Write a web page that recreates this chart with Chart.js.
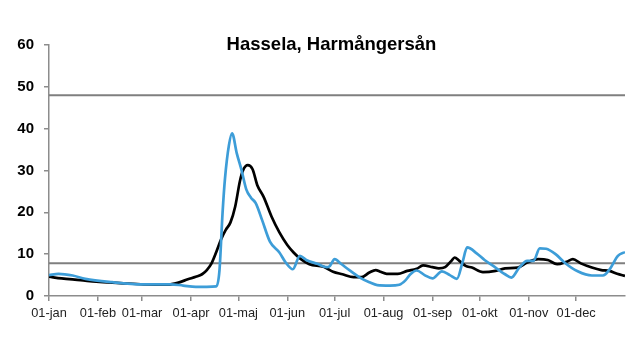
<!DOCTYPE html>
<html>
<head>
<meta charset="utf-8">
<script src="https://cdn.jsdelivr.net/npm/chart.js@4/dist/chart.umd.min.js"></script>
<style>
  html, body { margin: 0; padding: 0; background: #ffffff; }
  #wrap { width: 638px; height: 352px; position: relative; }
</style>
</head>
<body>
<div id="wrap"><canvas id="c" width="638" height="352"></canvas></div>
<script>
// ---- Data ----
const chartTitle = "Hassela, Harmångersån";
const monthStartDays = [0, 31, 59, 90, 120, 151, 181, 212, 243, 273, 304, 334];
const monthLabels = ["01-jan", "01-feb", "01-mar", "01-apr", "01-maj", "01-jun", "01-jul", "01-aug", "01-sep", "01-okt", "01-nov", "01-dec"];
const yTicks = [0, 10, 20, 30, 40, 50, 60];

const blackDays = [0, 8, 20, 30, 45, 60, 75, 82, 88, 93, 97, 100, 103, 106, 109, 112, 115, 118, 121, 123, 126, 129, 132, 136, 141, 146, 151, 155, 159, 165, 174, 180, 186, 193, 198, 203, 207, 210, 214, 221, 227, 233, 237, 243, 247, 251, 255, 257, 260, 264, 268, 275, 283, 289, 297, 303, 310, 316, 322, 328, 332, 337, 344, 350, 355, 360, 365];
const blackVals = [4.6, 4.2, 3.8, 3.4, 3.1, 2.8, 2.7, 3.2, 4.0, 4.6, 5.2, 6.2, 7.8, 10.5, 13.5, 15.8, 17.6, 21.4, 27.5, 30.1, 31.3, 30.3, 26.5, 23.7, 19.0, 15.2, 12.2, 10.4, 9.0, 7.6, 7.0, 5.8, 5.2, 4.5, 4.5, 5.6, 6.2, 5.8, 5.3, 5.3, 6.0, 6.5, 7.3, 6.9, 6.6, 6.9, 8.4, 9.2, 8.4, 7.2, 6.8, 5.7, 6.0, 6.6, 6.8, 8.0, 8.8, 8.6, 7.6, 8.2, 8.8, 7.8, 6.8, 6.2, 6.0, 5.3, 4.8];

const blueDays = [0, 6, 15, 23, 40, 59, 77, 85, 93, 100, 106, 108, 110, 111.5, 114, 116, 119, 122, 125, 128, 131, 135, 140, 146, 150, 154.5, 159, 163, 170, 176, 178, 181, 185, 191, 197, 203, 208, 216, 222, 226, 229, 233, 238, 243, 249, 254, 258.5, 262, 265, 271, 276, 281, 289, 293, 298, 303, 307, 311, 315, 321, 327, 335, 344, 351, 355.5, 360.5, 365];
const blueVals = [5.0, 5.3, 4.9, 4.1, 3.3, 2.8, 2.8, 2.5, 2.2, 2.2, 2.3, 6.0, 20.0, 28.0, 36.0, 38.9, 34.1, 30.1, 25.5, 23.5, 22.2, 18.2, 13.0, 10.4, 8.0, 6.4, 9.6, 8.6, 7.7, 6.9, 7.2, 8.8, 7.7, 6.0, 4.4, 3.3, 2.6, 2.5, 2.7, 3.8, 5.2, 6.1, 5.0, 4.2, 5.9, 5.0, 4.1, 8.0, 11.6, 10.2, 8.6, 7.3, 5.2, 4.4, 6.8, 8.4, 8.4, 11.4, 11.3, 10.0, 7.9, 5.9, 4.9, 4.9, 6.5, 9.6, 10.5];

const refLevels = [48, 7.8];
const dayRange = [0, 365];

// ---- Build datasets ----
const toPts = (xs, ys) => xs.map((x, i) => ({ x: x, y: ys[i] }));

const datasets = [
  {
    label: "blå",
    data: toPts(blueDays, blueVals),
    borderColor: "#3d9dd8",
    borderWidth: 2.7,
    pointRadius: 0,
    cubicInterpolationMode: "monotone",
    order: 0
  },
  {
    label: "svart",
    data: toPts(blackDays, blackVals),
    borderColor: "#000000",
    borderWidth: 2.7,
    pointRadius: 0,
    cubicInterpolationMode: "monotone",
    order: 1
  }
];
refLevels.forEach((lv, i) => {
  datasets.push({
    label: "ref" + i,
    data: dayRange.map(d => ({ x: d, y: lv })),
    borderColor: "#7f7f7f",
    borderWidth: 2,
    pointRadius: 0,
    order: 2
  });
});

const titlePlugin = {
  id: "ownTitle",
  afterDraw(chart) {
    const ctx = chart.ctx;
    ctx.save();
    ctx.font = "bold 18.5px 'Liberation Sans', Arial, sans-serif";
    ctx.fillStyle = "#000000";
    ctx.textAlign = "center";
    ctx.textBaseline = "middle";
    ctx.fillText(chartTitle, 331.5, 45);
    ctx.restore();
  }
};

new Chart(document.getElementById("c"), {
  type: "line",
  data: { datasets: datasets },
  plugins: [titlePlugin],
  options: {
    responsive: false,
    animation: false,
    layout: { padding: { left: 0, right: 13, top: 45, bottom: 0 } },
    plugins: {
      legend: { display: false },
      tooltip: { enabled: false },
      title: { display: false }
    },
    scales: {
      x: {
        type: "linear",
        min: dayRange[0],
        max: dayRange[1],
        afterBuildTicks(scale) {
          scale.ticks = monthStartDays.map(v => ({ value: v }));
        },
        afterFit(scale) { scale.height = 56; },
        ticks: {
          autoSkip: false,
          maxRotation: 0,
          padding: 5,
          color: "#222222",
          font: { family: "'Liberation Sans', Arial, sans-serif", size: 12.8 },
          callback: (v) => {
            const i = monthStartDays.indexOf(v);
            return i >= 0 ? monthLabels[i] : "";
          }
        },
        grid: {
          drawOnChartArea: false,
          drawTicks: true,
          tickLength: 5,
          color: "#8c8c8c",
          lineWidth: 1.5
        },
        border: { display: true, color: "#8c8c8c", width: 1.5 }
      },
      y: {
        min: 0,
        max: 60,
        afterBuildTicks(scale) {
          scale.ticks = yTicks.map(v => ({ value: v }));
        },
        afterFit(scale) { scale.width = 49; },
        ticks: {
          padding: 10,
          color: "#000000",
          font: { family: "'Liberation Sans', Arial, sans-serif", size: 15, weight: "bold" }
        },
        grid: {
          drawOnChartArea: false,
          drawTicks: true,
          tickLength: 5,
          color: "#8c8c8c",
          lineWidth: 1.5
        },
        border: { display: true, color: "#8c8c8c", width: 1.5 }
      }
    }
  }
});
</script>
</body>
</html>
